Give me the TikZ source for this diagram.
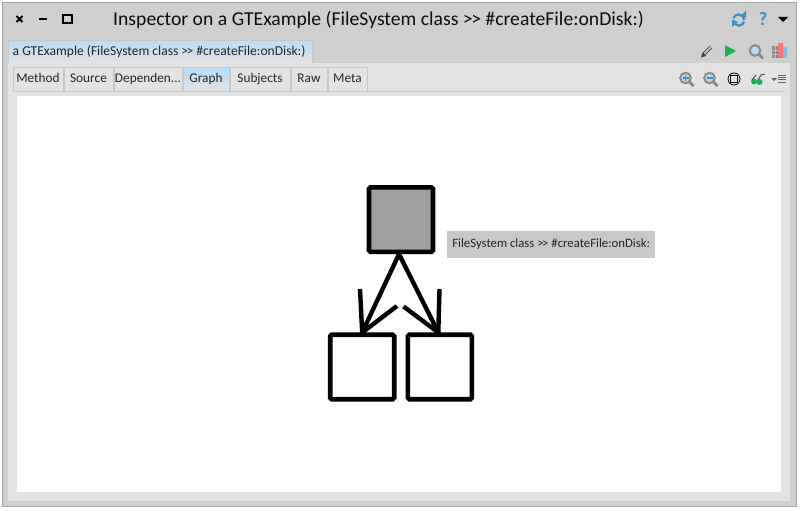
\documentclass[tikz,border=0pt]{standalone}
\usepackage{fontspec}
\setmainfont{Carlito}[Ligatures=NoCommon]
\usetikzlibrary{shapes.geometric}
\definecolor{winbg}{HTML}{CFCFCF}
\definecolor{winedge}{HTML}{A6A6A6}
\definecolor{panelbg}{HTML}{E3E3E3}
\definecolor{tabline}{HTML}{C8C8C8}
\definecolor{tabblue}{HTML}{B8DCF8}
\definecolor{labelgrey}{HTML}{C8C8C8}
\definecolor{fillgrey}{HTML}{A0A0A0}
\definecolor{icongrey}{HTML}{8A8A8A}
\definecolor{iconblue}{HTML}{3E8FC4}
\definecolor{playgreen}{HTML}{12B45A}
\newcommand{\gtgt}{{>}\kern-1.5pt{>}}
\tikzset{
  x=1pt,y=-1pt,
  box/.style={draw=black,line width=4.6pt,rounded corners=1.5pt,minimum width=64pt,minimum height=64.5pt,inner sep=0pt,fill=white},
  link/.style={draw=black,line width=4.4pt,line cap=round},
  tabbox/.style={draw=tabline,line width=1pt,fill=panelbg,inner sep=0pt,minimum height=23pt,text height=9pt,text depth=3pt,font=\fontsize{13.3}{13.3}\selectfont,text=black!85},
  magbody/.style={line width=2pt,draw=icongrey,fill=iconblue!35},
  maghandle/.style={icongrey,line width=2.8pt},
}
\begin{document}
\begin{tikzpicture}
\useasboundingbox (0,0) rectangle (800,511);
\fill[white] (0,0) rectangle (800,511);
% window
\fill[winedge] (2,2) rectangle (797,507);
\fill[winbg] (3,3) rectangle (796,506);
\fill[panelbg] (8,63) rectangle (790,501);
\shade[top color=tabblue,bottom color=panelbg] (8,40) rectangle (312,63);
\draw[tabline] (8,63) -- (8,40) -- (312,40) -- (312,63);
\draw[tabline] (13,91) -- (785,91);
\fill[white] (17,96) rectangle (781,492);
% window buttons
\draw[line width=1.8pt] (16.5,16) -- (22.5,22) (16.5,22) -- (22.5,16);
\draw[line width=1.8pt] (39,19) -- (47,19);
\draw[line width=2pt] (63,15) rectangle (71.5,23);
% title
\node[anchor=west,inner sep=0pt,font=\fontsize{19.68}{19.68}\selectfont,text=black!95] (title) at (113,19.5) {Inspector on a GTExample (FileSystem class \gtgt{} \#createFile:onDisk:)};
\node[anchor=west,inner sep=0pt,font=\fontsize{13.55}{13.55}\selectfont,text=black!85] (tabtitle) at (12.5,52) {a GTExample (FileSystem class \gtgt{} \#createFile:onDisk:)};
% tabs
\node[tabbox,minimum width=50pt] (t1) at (38,79.5) {Method};
\node[tabbox,minimum width=49pt] (t2) at (88.5,79.5) {Source};
\node[tabbox,minimum width=68pt] (t3) at (148,79.5) {Dependen...};
\node[tabbox,minimum width=46pt,top color=tabblue,bottom color=panelbg] (t4) at (206,79.5) {Graph};
\node[tabbox,minimum width=60pt] (t5) at (260,79.5) {Subjects};
\node[tabbox,minimum width=36pt] (t6) at (309,79.5) {Raw};
\node[tabbox,minimum width=39pt] (t7) at (347.5,79.5) {Meta};
% top right icons
\node[inner sep=0pt,font=\fontsize{19}{19}\bfseries\selectfont,text=iconblue] (qm) at (763,19) {?};
\draw[iconblue,line width=2.2pt] (733.2,20) arc (180:20:5.6);
\draw[iconblue,line width=2.2pt] (744.2,20) arc (0:-160:5.6);
\fill[iconblue] (746,11) -- (746,18) -- (740,16) -- cycle;
\fill[iconblue] (732,27) -- (732,20) -- (738,22) -- cycle;
\fill (778,17) -- (788,17) -- (783,22) -- cycle;
% pencil
\draw[black!70,line width=3.6pt] (704,54) -- (711,47);
\draw[black!25,line width=1.8pt] (704,54) -- (711,47);
\fill[black!75] (701,57.5) -- (702.5,52.5) -- (706,56) -- cycle;
% play
\fill[playgreen] (725,45) -- (736,51) -- (725,57) -- cycle;
% search
\draw[magbody] (755,50.5) circle (5.3);
\draw[maghandle] (759,54.5) -- (763,58.5);
% books
\fill[black!45] (772,46) rectangle (778,58);
\draw[black!25,line width=0.5pt] (772,50) -- (778,50) (772,54) -- (778,54) (775,46) -- (775,58);
\fill[red!55] (778,43.5) rectangle (783,58);
\fill[iconblue!60] (783,47) rectangle (786.5,58);
% toolbar icons
\draw[magbody] (685.5,78) circle (5.3);
\draw[maghandle] (689.5,82) -- (693.5,86);
\draw[iconblue,line width=1.5pt] (682.5,78) -- (688.5,78) (685.5,75) -- (685.5,81);
\draw[magbody] (709.5,78) circle (5.3);
\draw[maghandle] (713.5,82) -- (717.5,86);
\draw[iconblue,line width=1.5pt] (706.5,78) -- (712.5,78);
\draw[black,line width=0.8pt] (734,79) circle (6);
\draw[black,line width=1.4pt] (730.7,75.7) rectangle (737.3,82.3);
\fill[playgreen] (754,81.5) circle (3) (759.5,82) circle (3);
\draw[black!70,line width=0.9pt] (752,80) -- (756,75) (758,80) -- (761,75) -- (765,74);
\fill[black!60] (771,78) -- (777,78) -- (774,81) -- cycle;
\draw[black!60,line width=0.9pt] (778,75.5) -- (786,75.5) (778,77.7) -- (786,77.7) (778,79.9) -- (786,79.9) (778,82.1) -- (786,82.1);
% graph
\node[box,fill=fillgrey] (top) at (401,219.6) {};
\node[box] (left) at (362.2,367) {};
\node[box] (right) at (439.8,367) {};
\node[fill=labelgrey,anchor=west,inner sep=0pt,minimum width=208pt,minimum height=27pt,text height=9pt,text depth=3pt,font=\fontsize{12.75}{12.75}\selectfont,text=black!85] (label) at (447,244.5) {FileSystem class \gtgt{} \#createFile:onDisk:};
% connectors
\coordinate (apex) at ([xshift=-2pt]top.south);
\coordinate (lt) at ([yshift=0pt]left.north);
\coordinate (rt) at ([xshift=-1.5pt]right.north);
\coordinate (la) at (360,289);
\coordinate (lb) at (397,306);
\coordinate (ra) at (439.5,289);
\coordinate (rb) at (403.5,306.5);
\draw[link] (apex) -- (lt);
\draw[link] (apex) -- (rt);
\draw[link,line cap=butt] (la) -- (lt) -- (lb);
\draw[link,line cap=butt] (ra) -- (rt) -- (rb);
\end{tikzpicture}
\end{document}
